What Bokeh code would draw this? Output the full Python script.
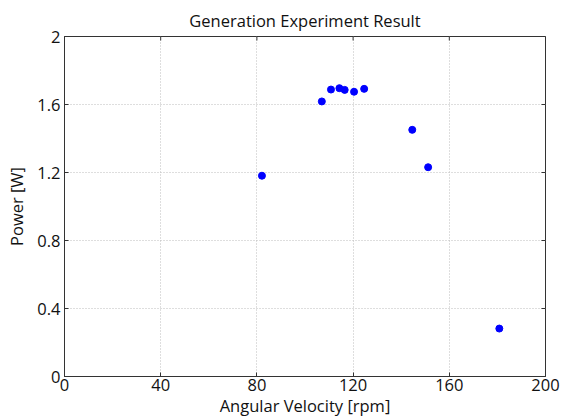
import math
from bokeh.plotting import figure
from bokeh.models import FixedTicker, Range1d
from bokeh.embed import file_html
from bokeh.resources import INLINE

# Data
angular_velocity_rpm = [82.1, 107.0, 110.8, 114.3, 116.5, 120.4, 124.6, 144.6, 151.2, 180.8]
power_w = [1.181, 1.618, 1.688, 1.696, 1.686, 1.675, 1.692, 1.451, 1.231, 0.282]

x_ticks = [0, 40, 80, 120, 160, 200]
y_ticks = [0, 0.4, 0.8, 1.2, 1.6, 2.0]
y_tick_labels = {0: "0", 0.4: "0.4", 0.8: "0.8", 1.2: "1.2", 1.6: "1.6", 2.0: "2"}

X_MIN, X_MAX = 0, 200
Y_MIN, Y_MAX = 0, 2

FONT = "Open Sans"
FS = "16.5px"
INK = "#111111"

p = figure(frame_width=481, frame_height=340, output_backend="svg", toolbar_location=None,
           x_range=Range1d(X_MIN, X_MAX), y_range=Range1d(Y_MIN, Y_MAX),
           title="Generation Experiment Result",
           min_border_left=64, min_border_right=20, min_border_top=36, min_border_bottom=41)

p.title.align = "center"
p.title.text_font = FONT
p.title.text_font_style = "normal"
p.title.text_font_size = FS
p.title.text_color = INK
p.title.offset = 0
p.title.standoff = 9

p.outline_line_color = "#333333"
p.outline_line_width = 1
p.background_fill_color = "white"
p.border_fill_color = "white"

p.xgrid.ticker = FixedTicker(ticks=x_ticks)
p.ygrid.ticker = FixedTicker(ticks=y_ticks)
for g in (p.xgrid, p.ygrid):
    g.grid_line_color = "#bdbdbd"
    g.grid_line_dash = "1 2"
    g.grid_line_width = 1

def style_axis(ax, ticks):
    ax.ticker = FixedTicker(ticks=ticks)
    ax.axis_line_color = "#333333"
    ax.major_tick_in = 4
    ax.major_tick_out = 0
    ax.major_tick_line_color = "#333333"
    ax.minor_tick_line_color = None
    ax.major_label_text_font = FONT
    ax.major_label_text_font_size = FS
    ax.major_label_text_color = INK
    ax.major_label_standoff = 2
    ax.axis_label_text_font = FONT
    ax.axis_label_text_font_size = FS
    ax.axis_label_text_font_style = "normal"
    ax.axis_label_text_color = INK
    ax.axis_label_standoff = 0

style_axis(p.xaxis[0], x_ticks)
p.xaxis[0].axis_label = "Angular Velocity [rpm]"
style_axis(p.yaxis[0], y_ticks)
p.yaxis[0].axis_label = "Power [W]"
p.yaxis[0].major_label_overrides = y_tick_labels
p.yaxis[0].major_label_standoff = 4
p.yaxis[0].axis_label_standoff = 6

# inward ticks on the top and right edges of the box (clipped to the frame)
p.scatter(x_ticks, [Y_MAX] * len(x_ticks), marker="dash", angle=math.pi / 2,
          size=8, line_color="#333333", line_width=1)
p.scatter([X_MAX] * len(y_ticks), y_ticks, marker="dash",
          size=8, line_color="#333333", line_width=1)

p.scatter(angular_velocity_rpm, power_w, size=7, marker="circle",
          fill_color="#0000ff", line_color="#0000ff")

open("out.html", "w").write(file_html(p, INLINE))
